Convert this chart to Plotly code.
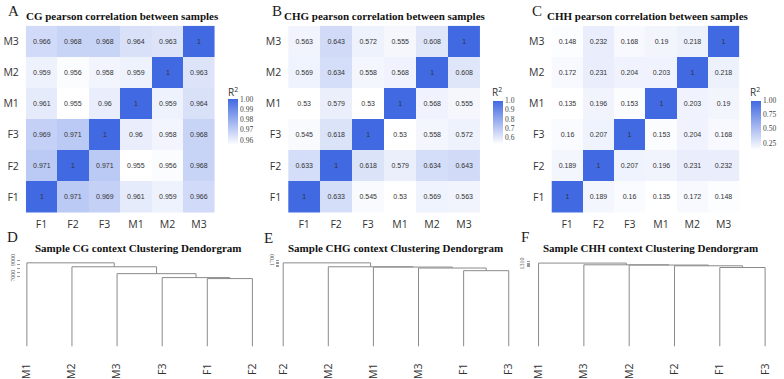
import plotly.graph_objects as go

W, H = 784, 379

samples = ["F1", "F2", "F3", "M1", "M2", "M3"]

# Pearson correlation matrices (rows/cols in sample order F1..M3)
cg_corr = [
    [1, 0.971, 0.969, 0.961, 0.959, 0.966],
    [0.971, 1, 0.971, 0.955, 0.956, 0.968],
    [0.969, 0.971, 1, 0.96, 0.958, 0.968],
    [0.961, 0.955, 0.96, 1, 0.959, 0.964],
    [0.959, 0.956, 0.958, 0.959, 1, 0.963],
    [0.966, 0.968, 0.968, 0.964, 0.963, 1],
]
chg_corr = [
    [1, 0.633, 0.545, 0.53, 0.569, 0.563],
    [0.633, 1, 0.618, 0.579, 0.634, 0.643],
    [0.545, 0.618, 1, 0.53, 0.558, 0.572],
    [0.53, 0.579, 0.53, 1, 0.568, 0.555],
    [0.569, 0.634, 0.558, 0.568, 1, 0.608],
    [0.563, 0.643, 0.572, 0.555, 0.608, 1],
]
chh_corr = [
    [1, 0.189, 0.16, 0.135, 0.172, 0.148],
    [0.189, 1, 0.207, 0.196, 0.231, 0.232],
    [0.16, 0.207, 1, 0.153, 0.204, 0.168],
    [0.135, 0.196, 0.153, 1, 0.203, 0.19],
    [0.172, 0.231, 0.204, 0.203, 1, 0.218],
    [0.148, 0.232, 0.168, 0.19, 0.218, 1],
]
cg_cbar_ticks = [0.96, 0.97, 0.98, 0.99, 1.00]
chg_cbar_ticks = [0.6, 0.7, 0.8, 0.9, 1.0]
chh_cbar_ticks = [0.25, 0.50, 0.75, 1.00]

# Hierarchical clustering (merge = pair of leaf names or index of earlier merge)
cg_leaf_order = ["M1", "M2", "M3", "F3", "F1", "F2"]
cg_merges = [("F1", "F2"), ("F3", 0), ("M3", 1), ("M2", 2), ("M1", 3)]
cg_heights = [6750, 6875, 7375, 8250, 8750]
cg_height_ticks = [7000, 7500, 8000, 8500, 9000]
cg_height_labels = ["7000", "", "", "", "9000"]

chg_leaf_order = ["F2", "M2", "M1", "M3", "F1", "F3"]
chg_merges = [("F1", "F3"), ("M3", 0), ("M1", 1), ("M2", 2), ("F2", 3)]
chg_heights = [1567, 1603, 1616, 1620, 1673]
chg_height_ticks = [1620, 1640, 1660, 1680, 1700]
chg_height_labels = ["", "", "", "", "1700"]

chh_leaf_order = ["M1", "M3", "M2", "F2", "F1", "F3"]
chh_merges = [("F1", "F3"), ("F2", 0), ("M2", 1), ("M3", 2), ("M1", 3)]
chh_heights = [1307.4, 1308.8, 1309.4, 1309.6, 1311.0]
chh_height_ticks = [1308, 1309, 1310, 1311, 1312]
chh_height_labels = ["", "", "1310", "", ""]

BLUE = "#4169E1"
LINE = "#8a8a8a"
SANS = "Open Sans"
SERIF = "Liberation Serif"


def fx(p):
    return p / W


def fy(p):
    return 1 - p / H


def fmt(v):
    return f"{v:g}"


fig = go.Figure()

heat_specs = [
    (cg_corr, cg_cbar_ticks, ".2f", (23, 213), 226, 120, 46),
    (chg_corr, chg_cbar_ticks, ".1f", (287, 480), 493, 120, 43),
    (chh_corr, chh_cbar_ticks, ".2f", (552, 741), 753, 123, 49),
]

for i, (mat, cticks, cfmt, (xl, xr), cbx, cby, cblen) in enumerate(heat_specs, start=1):
    fig.add_trace(go.Heatmap(
        z=mat, x=samples, y=samples,
        text=[[fmt(v) for v in row] for row in mat],
        texttemplate="%{text}",
        textfont=dict(size=7, color="#333333", family="Liberation Sans"),
        colorscale=[[0, "white"], [1, BLUE]],
        xaxis=f"x{i}", yaxis=f"y{i}",
        colorbar=dict(
            x=fx(cbx), xanchor="left", xpad=0, ypad=0,
            y=fy(cby), yanchor="middle",
            lenmode="pixels", len=cblen,
            thickness=10, outlinewidth=0,
            tickvals=cticks, tickformat=cfmt, ticks="",
            tickfont=dict(size=7.5, family=SERIF, color="#444"),
        ),
    ))
    fig.layout[f"xaxis{i}"] = dict(
        domain=[fx(xl), fx(xr)], anchor=f"y{i}", showgrid=False, zeroline=False,
        ticks="", tickfont=dict(size=10.5, family=SANS, color="#333"),
        ticklabelstandoff=4,
    )
    fig.layout[f"yaxis{i}"] = dict(
        domain=[fy(212), fy(22)], anchor=f"x{i}", showgrid=False, zeroline=False,
        ticks="", tickfont=dict(size=10.5, family=SANS, color="#333"),
        ticklabelstandoff=6,
    )


def dendro_paths(order, merges, heights, bottom):
    pos = []
    xs, ys = [], []

    def child(c):
        if isinstance(c, int):
            return pos[c]
        return (order.index(c), bottom)

    for (a, b), h in zip(merges, heights):
        pa, pb = sorted([child(a), child(b)])
        xs += [pa[0], pa[0], pb[0], pb[0], None]
        ys += [pa[1], h, h, pb[1], None]
        pos.append(((pa[0] + pb[0]) / 2, h))
    return xs, ys


dend_specs = [
    (cg_leaf_order, cg_merges, cg_heights, (-1875, 9375), (24, 251), 17,
     cg_height_ticks, cg_height_labels),
    (chg_leaf_order, chg_merges, chg_heights, (540, 1740), (282, 509), 278,
     chg_height_ticks, chg_height_labels),
    (chh_leaf_order, chh_merges, chh_heights, (1243.2, 1315.2), (539, 767), 530,
     chh_height_ticks, chh_height_labels),
]

for j, (order, merges, heights, yr, (lx, rx), axpos, tv, tt) in enumerate(dend_specs, start=4):
    xs, ys = dendro_paths(order, merges, heights, yr[0])
    fig.add_trace(go.Scatter(
        x=xs, y=ys, mode="lines", line=dict(color=LINE, width=1),
        xaxis=f"x{j}", yaxis=f"y{j}", showlegend=False, hoverinfo="skip",
    ))
    u = (rx - lx) / 5
    fig.layout[f"xaxis{j}"] = dict(
        domain=[fx(lx - 0.1 * u), fx(rx + 0.1 * u)], range=[-0.1, 5.1],
        anchor=f"y{j}", showgrid=False, zeroline=False, showline=False,
        tickvals=list(range(6)), ticktext=order, tickangle=-90, ticks="",
        tickfont=dict(size=10.5, family=SANS, color="#333"),
        ticklabelstandoff=14,
    )
    fig.layout[f"yaxis{j}"] = dict(
        domain=[fy(348), fy(258)], range=list(yr), anchor="free", position=fx(axpos),
        showgrid=False, zeroline=False, showline=False,
        tickvals=tv, ticktext=tt, ticks="outside", ticklen=3, tickcolor="#999",
        tickangle=-90, tickfont=dict(size=6, family=SERIF, color="#555"),
    )

annotations = []


def ann(text, x, y, size, family, color):
    annotations.append(dict(text=text, x=fx(x), y=fy(y), xref="paper", yref="paper",
                            xanchor="center", yanchor="middle", showarrow=False,
                            font=dict(size=size, family=family, color=color)))


for txt, x, y in [("A", 11, 7), ("B", 276, 7), ("C", 537, 7),
                  ("D", 10, 237), ("E", 267, 238), ("F", 525, 237)]:
    ann(txt, x, y, 15, SERIF, "#222")
for txt, x, y in [("CG pearson correlation between samples", 120, 12.5),
                  ("CHG pearson correlation between samples", 384, 12.5),
                  ("CHH pearson correlation between samples", 649, 12.5),
                  ("Sample CG context Clustering Dendorgram", 136, 247.5),
                  ("Sample CHG context Clustering Dendorgram", 395, 247.5),
                  ("Sample CHH context Clustering Dendorgram", 652, 247.5)]:
    ann(f"<b>{txt}</b>", x, y, 11, SERIF, "#111")
for x in [231, 497, 757]:
    ann("R<sup>2</sup>", x, 89, 10, SANS, "#333")

fig.update_layout(
    width=W, height=H, margin=dict(l=0, r=0, t=0, b=0),
    paper_bgcolor="white", plot_bgcolor="white",
    annotations=annotations, showlegend=False,
)

fig.write_html("out.html")
